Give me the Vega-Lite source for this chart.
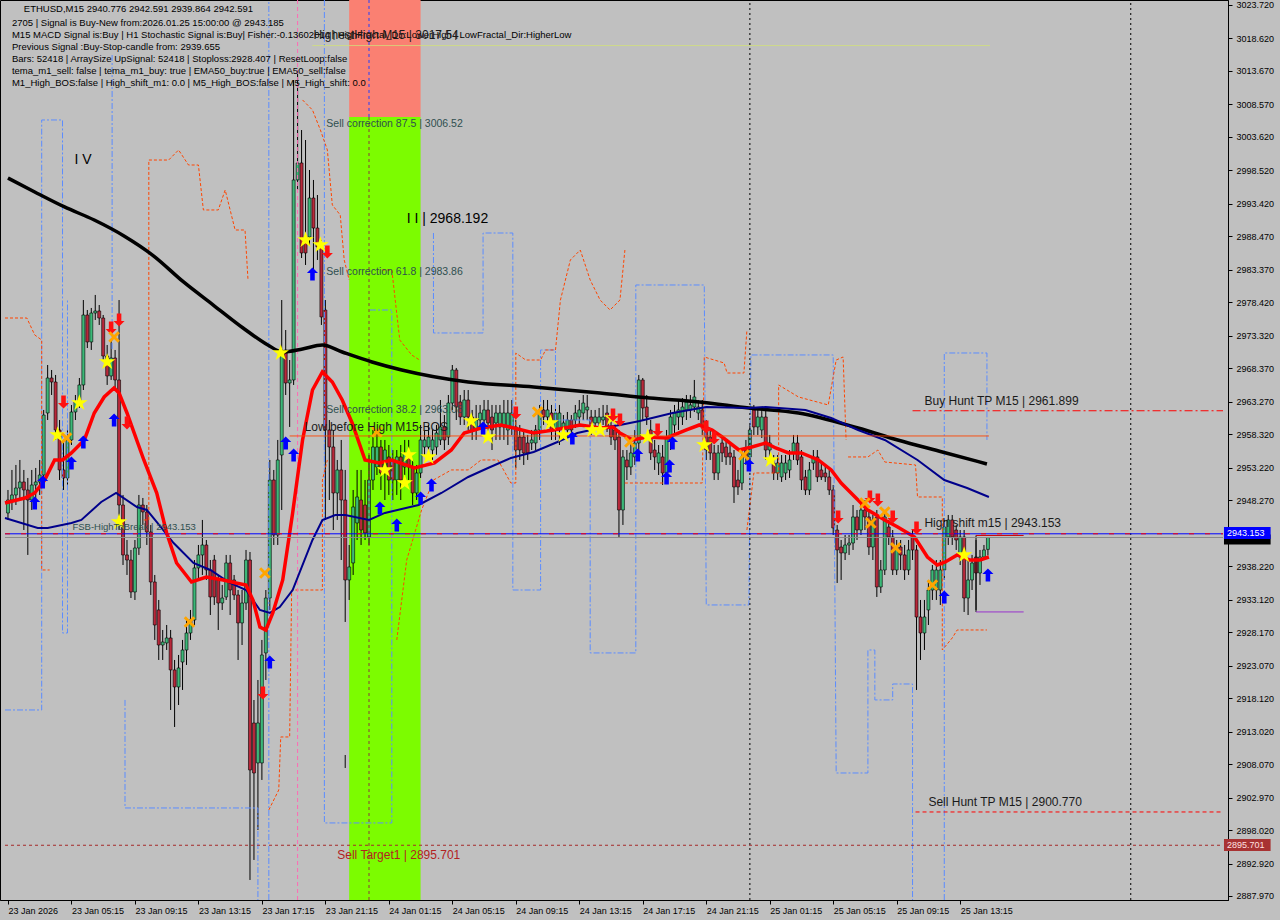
{
"$schema": "https://vega.github.io/schema/vega-lite/v6.json",
"width": 1228, "height": 900,
"autosize": {"type": "none"},
"padding": {"left": 0, "top": 0, "right": 52, "bottom": 20},
"background": "#c0c0c0",
"config": {"view": {"fill": "#c0c0c0", "stroke": "#000000", "strokeWidth": 1}, "axis": {"grid": false}},
"datasets": {
"bands": [
{"k":"r","i":86,"i2":104,"p":3006.66,"p2":3024.48},
{"k":"g","i":86,"i2":104,"p":2887.36,"p2":3006.66}
],
"candles": [
{"i":0,"o":2946.32,"h":2949.83,"l":2945.26,"c":2948.30},
{"i":1,"o":2948.30,"h":2952.88,"l":2946.78,"c":2949.07},
{"i":2,"o":2949.07,"h":2953.64,"l":2947.54,"c":2950.13},
{"i":3,"o":2950.13,"h":2954.40,"l":2948.30,"c":2951.05},
{"i":4,"o":2951.05,"h":2952.88,"l":2943.73,"c":2949.83},
{"i":5,"o":2949.83,"h":2951.66,"l":2939.93,"c":2948.30},
{"i":6,"o":2948.30,"h":2952.88,"l":2946.78,"c":2950.59},
{"i":7,"o":2950.59,"h":2953.18,"l":2948.30,"c":2951.05},
{"i":8,"o":2951.05,"h":2954.40,"l":2949.07,"c":2952.11},
{"i":9,"o":2952.11,"h":2962.02,"l":2951.35,"c":2961.25},
{"i":10,"o":2961.56,"h":2968.87,"l":2960.49,"c":2966.89},
{"i":11,"o":2966.89,"h":2968.11,"l":2964.30,"c":2966.28},
{"i":12,"o":2966.28,"h":2967.35,"l":2957.45,"c":2958.97},
{"i":13,"o":2958.97,"h":2960.49,"l":2951.35,"c":2952.88},
{"i":14,"o":2952.88,"h":2957.45,"l":2949.83,"c":2951.66},
{"i":15,"o":2951.66,"h":2958.97,"l":2950.59,"c":2957.45},
{"i":16,"o":2957.45,"h":2962.78,"l":2956.68,"c":2961.71},
{"i":17,"o":2961.71,"h":2964.30,"l":2960.49,"c":2963.24},
{"i":18,"o":2963.24,"h":2966.89,"l":2962.32,"c":2965.83},
{"i":19,"o":2965.83,"h":2978.77,"l":2965.06,"c":2976.49},
{"i":20,"o":2976.49,"h":2977.25,"l":2971.46,"c":2972.38},
{"i":21,"o":2972.38,"h":2977.56,"l":2971.16,"c":2976.79},
{"i":22,"o":2976.79,"h":2979.54,"l":2975.73,"c":2977.10},
{"i":23,"o":2977.10,"h":2978.01,"l":2974.97,"c":2976.03},
{"i":24,"o":2976.03,"h":2976.49,"l":2969.63,"c":2970.24},
{"i":25,"o":2970.24,"h":2971.92,"l":2965.83,"c":2967.20},
{"i":26,"o":2967.20,"h":2972.68,"l":2966.59,"c":2969.94},
{"i":27,"o":2969.94,"h":2971.16,"l":2965.06,"c":2966.59},
{"i":28,"o":2966.59,"h":2978.77,"l":2943.73,"c":2947.54},
{"i":29,"o":2947.54,"h":2949.07,"l":2938.40,"c":2939.93},
{"i":30,"o":2939.93,"h":2942.21,"l":2936.88,"c":2939.16},
{"i":31,"o":2939.16,"h":2940.69,"l":2933.37,"c":2934.29},
{"i":32,"o":2934.29,"h":2942.21,"l":2933.07,"c":2940.99},
{"i":33,"o":2940.99,"h":2949.07,"l":2939.93,"c":2947.54},
{"i":34,"o":2947.54,"h":2948.61,"l":2944.50,"c":2946.48},
{"i":35,"o":2946.48,"h":2947.54,"l":2941.45,"c":2943.43},
{"i":36,"o":2943.43,"h":2944.50,"l":2933.83,"c":2935.81},
{"i":37,"o":2935.81,"h":2936.88,"l":2926.98,"c":2929.26},
{"i":38,"o":2931.55,"h":2933.07,"l":2923.93,"c":2926.21},
{"i":39,"o":2926.21,"h":2928.50,"l":2923.93,"c":2926.67},
{"i":40,"o":2926.52,"h":2929.26,"l":2925.45,"c":2927.28},
{"i":41,"o":2927.28,"h":2928.50,"l":2916.31,"c":2922.41},
{"i":42,"o":2922.41,"h":2923.93,"l":2913.72,"c":2919.82},
{"i":43,"o":2919.82,"h":2924.69,"l":2917.07,"c":2922.71},
{"i":44,"o":2923.62,"h":2926.98,"l":2919.36,"c":2925.45},
{"i":45,"o":2925.45,"h":2930.02,"l":2923.17,"c":2928.04},
{"i":46,"o":2928.04,"h":2931.55,"l":2926.98,"c":2930.02},
{"i":47,"o":2930.02,"h":2939.16,"l":2929.26,"c":2937.95},
{"i":48,"o":2937.95,"h":2941.45,"l":2936.12,"c":2939.93},
{"i":49,"o":2939.93,"h":2945.26,"l":2936.88,"c":2941.45},
{"i":50,"o":2941.45,"h":2942.21,"l":2936.12,"c":2937.64},
{"i":51,"o":2937.64,"h":2939.16,"l":2930.78,"c":2933.53},
{"i":52,"o":2939.16,"h":2939.93,"l":2932.31,"c":2933.53},
{"i":53,"o":2936.12,"h":2936.88,"l":2928.50,"c":2932.61},
{"i":54,"o":2932.61,"h":2935.36,"l":2931.55,"c":2933.37},
{"i":55,"o":2933.53,"h":2939.93,"l":2933.07,"c":2938.71},
{"i":56,"o":2938.71,"h":2939.93,"l":2930.78,"c":2934.59},
{"i":57,"o":2936.12,"h":2936.88,"l":2933.07,"c":2933.83},
{"i":58,"o":2933.83,"h":2934.59,"l":2923.93,"c":2929.57},
{"i":59,"o":2929.57,"h":2934.59,"l":2926.21,"c":2932.61},
{"i":60,"o":2932.61,"h":2940.69,"l":2931.55,"c":2939.16},
{"i":61,"o":2939.16,"h":2940.38,"l":2890.41,"c":2907.17},
{"i":62,"o":2914.33,"h":2917.83,"l":2893.46,"c":2906.71},
{"i":63,"o":2908.24,"h":2920.88,"l":2898.03,"c":2914.33},
{"i":64,"o":2908.24,"h":2926.98,"l":2905.65,"c":2924.69},
{"i":65,"o":2925.00,"h":2934.59,"l":2920.88,"c":2933.37},
{"i":66,"o":2933.37,"h":2954.40,"l":2931.55,"c":2951.35},
{"i":67,"o":2951.35,"h":2952.88,"l":2941.45,"c":2942.97},
{"i":68,"o":2942.97,"h":2957.45,"l":2941.45,"c":2954.40},
{"i":69,"o":2955.16,"h":2978.77,"l":2946.78,"c":2971.16},
{"i":70,"o":2971.16,"h":2974.20,"l":2964.30,"c":2966.13},
{"i":71,"o":2966.13,"h":2969.63,"l":2959.43,"c":2966.59},
{"i":72,"o":2966.59,"h":3012.29,"l":2965.83,"c":2997.06},
{"i":73,"o":2997.06,"h":3013.82,"l":2995.53,"c":2999.65},
{"i":74,"o":2999.65,"h":3004.67,"l":2985.17,"c":2985.94},
{"i":75,"o":2988.37,"h":3003.15,"l":2984.11,"c":2985.94},
{"i":76,"o":2988.37,"h":2998.58,"l":2987.15,"c":2994.31},
{"i":77,"o":2994.31,"h":2997.06,"l":2983.35,"c":2989.74},
{"i":78,"o":2989.74,"h":2994.77,"l":2984.87,"c":2986.85},
{"i":79,"o":2986.85,"h":2987.92,"l":2974.97,"c":2976.19},
{"i":80,"o":2977.25,"h":2978.77,"l":2945.26,"c":2958.97},
{"i":81,"o":2958.97,"h":2960.49,"l":2948.30,"c":2956.38},
{"i":82,"o":2956.38,"h":2958.97,"l":2943.73,"c":2949.37},
{"i":83,"o":2949.37,"h":2954.40,"l":2945.26,"c":2952.88},
{"i":84,"o":2952.88,"h":2957.45,"l":2939.16,"c":2948.30},
{"i":85,"o":2948.30,"h":2952.88,"l":2929.72,"c":2936.12},
{"i":86,"o":2936.12,"h":2941.45,"l":2933.07,"c":2938.10},
{"i":87,"o":2938.71,"h":2949.83,"l":2936.88,"c":2947.24},
{"i":88,"o":2944.80,"h":2952.88,"l":2942.21,"c":2948.76},
{"i":89,"o":2948.30,"h":2952.88,"l":2941.45,"c":2943.73},
{"i":90,"o":2947.54,"h":2951.35,"l":2942.21,"c":2943.28},
{"i":91,"o":2942.67,"h":2955.16,"l":2941.45,"c":2951.35},
{"i":92,"o":2951.35,"h":2958.97,"l":2949.83,"c":2956.38},
{"i":93,"o":2953.33,"h":2958.97,"l":2952.11,"c":2956.38},
{"i":94,"o":2956.38,"h":2957.45,"l":2949.83,"c":2952.42},
{"i":95,"o":2952.42,"h":2957.45,"l":2948.30,"c":2955.92},
{"i":96,"o":2954.86,"h":2956.68,"l":2949.07,"c":2951.35},
{"i":97,"o":2954.40,"h":2955.92,"l":2948.30,"c":2951.35},
{"i":98,"o":2951.35,"h":2955.92,"l":2949.07,"c":2954.86},
{"i":99,"o":2954.86,"h":2956.68,"l":2948.30,"c":2951.35},
{"i":100,"o":2953.33,"h":2957.45,"l":2952.11,"c":2955.47},
{"i":101,"o":2955.47,"h":2957.45,"l":2951.35,"c":2953.33},
{"i":102,"o":2953.33,"h":2954.40,"l":2947.54,"c":2949.37},
{"i":103,"o":2949.37,"h":2953.64,"l":2948.30,"c":2952.42},
{"i":104,"o":2952.42,"h":2959.73,"l":2951.66,"c":2957.45},
{"i":105,"o":2956.38,"h":2958.97,"l":2955.16,"c":2957.45},
{"i":106,"o":2956.38,"h":2959.73,"l":2954.40,"c":2957.90},
{"i":107,"o":2955.92,"h":2958.97,"l":2954.40,"c":2957.45},
{"i":108,"o":2956.38,"h":2959.73,"l":2955.16,"c":2958.51},
{"i":109,"o":2957.45,"h":2963.54,"l":2956.68,"c":2959.43},
{"i":110,"o":2959.43,"h":2961.25,"l":2955.92,"c":2957.45},
{"i":111,"o":2957.90,"h":2964.30,"l":2956.68,"c":2963.08},
{"i":112,"o":2963.08,"h":2968.87,"l":2962.02,"c":2968.11},
{"i":113,"o":2968.11,"h":2968.42,"l":2960.49,"c":2962.47},
{"i":114,"o":2963.24,"h":2964.30,"l":2959.73,"c":2960.95},
{"i":115,"o":2960.95,"h":2965.06,"l":2959.73,"c":2963.54},
{"i":116,"o":2963.54,"h":2965.06,"l":2958.97,"c":2960.95},
{"i":117,"o":2960.95,"h":2962.02,"l":2957.45,"c":2958.97},
{"i":118,"o":2958.97,"h":2962.78,"l":2957.45,"c":2960.49},
{"i":119,"o":2960.49,"h":2962.78,"l":2958.97,"c":2961.56},
{"i":120,"o":2960.49,"h":2963.54,"l":2958.21,"c":2962.02},
{"i":121,"o":2962.02,"h":2963.54,"l":2957.45,"c":2960.04},
{"i":122,"o":2960.95,"h":2962.78,"l":2955.92,"c":2958.97},
{"i":123,"o":2960.04,"h":2962.78,"l":2957.45,"c":2961.56},
{"i":124,"o":2959.43,"h":2962.78,"l":2957.45,"c":2961.56},
{"i":125,"o":2959.43,"h":2963.54,"l":2957.45,"c":2961.56},
{"i":126,"o":2958.97,"h":2963.54,"l":2956.68,"c":2961.56},
{"i":127,"o":2959.43,"h":2963.54,"l":2958.21,"c":2961.56},
{"i":128,"o":2959.43,"h":2960.49,"l":2953.18,"c":2955.92},
{"i":129,"o":2957.90,"h":2959.73,"l":2954.40,"c":2955.92},
{"i":130,"o":2957.90,"h":2958.97,"l":2953.64,"c":2955.47},
{"i":131,"o":2956.99,"h":2958.21,"l":2954.40,"c":2955.47},
{"i":132,"o":2956.99,"h":2958.97,"l":2955.92,"c":2957.45},
{"i":133,"o":2956.99,"h":2959.73,"l":2955.92,"c":2958.97},
{"i":134,"o":2958.97,"h":2962.78,"l":2957.45,"c":2962.02},
{"i":135,"o":2962.02,"h":2963.54,"l":2959.73,"c":2960.95},
{"i":136,"o":2960.95,"h":2963.54,"l":2959.73,"c":2962.02},
{"i":137,"o":2961.56,"h":2962.78,"l":2957.45,"c":2958.97},
{"i":138,"o":2958.97,"h":2962.78,"l":2957.45,"c":2961.56},
{"i":139,"o":2958.97,"h":2962.78,"l":2956.68,"c":2961.56},
{"i":140,"o":2958.97,"h":2961.25,"l":2957.75,"c":2960.04},
{"i":141,"o":2958.97,"h":2961.71,"l":2957.75,"c":2960.49},
{"i":142,"o":2960.49,"h":2961.25,"l":2957.45,"c":2958.97},
{"i":143,"o":2960.49,"h":2962.78,"l":2959.27,"c":2961.56},
{"i":144,"o":2960.95,"h":2963.54,"l":2959.73,"c":2962.02},
{"i":145,"o":2961.56,"h":2964.30,"l":2960.49,"c":2963.08},
{"i":146,"o":2962.02,"h":2964.30,"l":2960.49,"c":2962.47},
{"i":147,"o":2960.95,"h":2962.02,"l":2958.21,"c":2959.43},
{"i":148,"o":2960.04,"h":2962.02,"l":2958.97,"c":2960.95},
{"i":149,"o":2960.04,"h":2962.32,"l":2958.97,"c":2960.95},
{"i":150,"o":2960.49,"h":2962.78,"l":2959.73,"c":2960.95},
{"i":151,"o":2961.56,"h":2962.78,"l":2958.66,"c":2959.43},
{"i":152,"o":2959.43,"h":2960.49,"l":2956.68,"c":2957.90},
{"i":153,"o":2958.97,"h":2959.73,"l":2955.92,"c":2957.45},
{"i":154,"o":2957.90,"h":2958.97,"l":2942.67,"c":2946.78},
{"i":155,"o":2946.78,"h":2955.92,"l":2944.50,"c":2954.86},
{"i":156,"o":2954.40,"h":2955.92,"l":2951.35,"c":2953.33},
{"i":157,"o":2953.33,"h":2957.45,"l":2952.11,"c":2955.47},
{"i":158,"o":2954.86,"h":2958.97,"l":2953.64,"c":2956.99},
{"i":159,"o":2956.99,"h":2967.35,"l":2955.92,"c":2966.59},
{"i":160,"o":2966.59,"h":2966.89,"l":2960.49,"c":2962.32},
{"i":161,"o":2962.47,"h":2964.30,"l":2959.73,"c":2960.95},
{"i":162,"o":2958.97,"h":2960.49,"l":2954.40,"c":2955.47},
{"i":163,"o":2955.92,"h":2957.45,"l":2952.88,"c":2954.86},
{"i":164,"o":2953.94,"h":2956.68,"l":2952.11,"c":2955.47},
{"i":165,"o":2954.86,"h":2956.68,"l":2950.59,"c":2952.42},
{"i":166,"o":2952.42,"h":2958.97,"l":2952.12,"c":2957.90},
{"i":167,"o":2957.45,"h":2962.02,"l":2955.92,"c":2960.95},
{"i":168,"o":2959.73,"h":2962.78,"l":2958.21,"c":2961.56},
{"i":169,"o":2960.95,"h":2963.54,"l":2958.97,"c":2962.02},
{"i":170,"o":2960.95,"h":2963.84,"l":2959.73,"c":2962.47},
{"i":171,"o":2962.02,"h":2964.30,"l":2960.49,"c":2963.24},
{"i":172,"o":2962.02,"h":2964.30,"l":2960.80,"c":2962.78},
{"i":173,"o":2962.47,"h":2966.59,"l":2961.71,"c":2964.00},
{"i":174,"o":2961.56,"h":2963.54,"l":2960.49,"c":2962.47},
{"i":175,"o":2962.02,"h":2963.54,"l":2958.21,"c":2959.43},
{"i":176,"o":2959.43,"h":2960.49,"l":2954.40,"c":2955.92},
{"i":177,"o":2957.90,"h":2958.97,"l":2954.40,"c":2955.47},
{"i":178,"o":2955.47,"h":2956.68,"l":2951.35,"c":2952.42},
{"i":179,"o":2952.42,"h":2956.68,"l":2951.35,"c":2955.47},
{"i":180,"o":2956.99,"h":2958.21,"l":2954.09,"c":2955.47},
{"i":181,"o":2956.38,"h":2957.45,"l":2953.64,"c":2954.86},
{"i":182,"o":2955.47,"h":2956.68,"l":2953.64,"c":2954.86},
{"i":183,"o":2954.86,"h":2955.92,"l":2947.85,"c":2950.29},
{"i":184,"o":2951.35,"h":2952.88,"l":2949.07,"c":2950.29},
{"i":185,"o":2950.89,"h":2955.92,"l":2949.83,"c":2954.86},
{"i":186,"o":2955.92,"h":2957.45,"l":2953.64,"c":2954.86},
{"i":187,"o":2954.86,"h":2959.73,"l":2953.64,"c":2958.97},
{"i":188,"o":2962.02,"h":2962.78,"l":2958.21,"c":2959.43},
{"i":189,"o":2959.43,"h":2962.02,"l":2958.21,"c":2960.95},
{"i":190,"o":2958.97,"h":2962.02,"l":2957.75,"c":2960.95},
{"i":191,"o":2960.95,"h":2962.02,"l":2954.40,"c":2955.92},
{"i":192,"o":2955.92,"h":2958.21,"l":2954.70,"c":2956.99},
{"i":193,"o":2953.94,"h":2955.16,"l":2951.35,"c":2952.42},
{"i":194,"o":2952.42,"h":2955.16,"l":2951.35,"c":2953.94},
{"i":195,"o":2951.81,"h":2955.16,"l":2951.05,"c":2953.94},
{"i":196,"o":2952.42,"h":2955.16,"l":2951.35,"c":2953.94},
{"i":197,"o":2952.88,"h":2955.92,"l":2951.66,"c":2954.40},
{"i":198,"o":2955.47,"h":2958.21,"l":2954.40,"c":2956.99},
{"i":199,"o":2956.99,"h":2958.21,"l":2953.64,"c":2954.40},
{"i":200,"o":2954.86,"h":2955.92,"l":2949.83,"c":2951.35},
{"i":201,"o":2951.81,"h":2952.88,"l":2949.07,"c":2949.83},
{"i":202,"o":2949.83,"h":2954.09,"l":2949.07,"c":2952.88},
{"i":203,"o":2953.94,"h":2955.92,"l":2952.88,"c":2954.86},
{"i":204,"o":2954.86,"h":2955.92,"l":2951.05,"c":2951.81},
{"i":205,"o":2952.88,"h":2954.09,"l":2951.35,"c":2951.81},
{"i":206,"o":2952.42,"h":2953.64,"l":2951.05,"c":2951.81},
{"i":207,"o":2951.81,"h":2952.88,"l":2949.07,"c":2949.83},
{"i":208,"o":2949.83,"h":2950.59,"l":2942.97,"c":2944.04},
{"i":209,"o":2943.73,"h":2944.50,"l":2935.66,"c":2940.69},
{"i":210,"o":2941.14,"h":2942.21,"l":2936.12,"c":2940.23},
{"i":211,"o":2940.23,"h":2942.97,"l":2939.16,"c":2941.45},
{"i":212,"o":2941.45,"h":2942.97,"l":2939.93,"c":2941.75},
{"i":213,"o":2941.75,"h":2947.54,"l":2940.69,"c":2945.72},
{"i":214,"o":2945.72,"h":2946.78,"l":2942.21,"c":2943.73},
{"i":215,"o":2943.73,"h":2948.30,"l":2942.97,"c":2946.78},
{"i":216,"o":2946.78,"h":2948.30,"l":2943.73,"c":2945.72},
{"i":217,"o":2945.72,"h":2946.78,"l":2939.93,"c":2941.14},
{"i":218,"o":2941.14,"h":2946.02,"l":2939.16,"c":2945.26},
{"i":219,"o":2945.72,"h":2946.78,"l":2933.53,"c":2935.05},
{"i":220,"o":2935.05,"h":2939.16,"l":2934.14,"c":2937.64},
{"i":221,"o":2937.64,"h":2946.78,"l":2936.88,"c":2945.72},
{"i":222,"o":2944.19,"h":2945.26,"l":2941.45,"c":2942.67},
{"i":223,"o":2942.67,"h":2943.73,"l":2936.88,"c":2937.64},
{"i":224,"o":2937.64,"h":2942.21,"l":2936.88,"c":2941.14},
{"i":225,"o":2941.14,"h":2942.21,"l":2937.64,"c":2939.93},
{"i":226,"o":2939.93,"h":2941.45,"l":2936.12,"c":2937.64},
{"i":227,"o":2937.64,"h":2942.21,"l":2936.88,"c":2940.69},
{"i":228,"o":2942.67,"h":2943.73,"l":2939.16,"c":2940.69},
{"i":229,"o":2940.69,"h":2941.45,"l":2919.36,"c":2930.48},
{"i":230,"o":2930.48,"h":2933.07,"l":2923.93,"c":2928.04},
{"i":231,"o":2928.04,"h":2933.07,"l":2925.45,"c":2930.48},
{"i":232,"o":2931.55,"h":2936.12,"l":2929.26,"c":2934.59},
{"i":233,"o":2934.59,"h":2938.40,"l":2933.07,"c":2937.64},
{"i":234,"o":2934.59,"h":2939.16,"l":2933.07,"c":2937.64},
{"i":235,"o":2934.59,"h":2939.16,"l":2932.31,"c":2937.64},
{"i":236,"o":2937.64,"h":2945.26,"l":2936.12,"c":2944.19},
{"i":237,"o":2942.67,"h":2946.02,"l":2941.45,"c":2945.26},
{"i":238,"o":2945.26,"h":2946.02,"l":2941.45,"c":2942.67},
{"i":239,"o":2943.73,"h":2944.50,"l":2940.69,"c":2942.21},
{"i":240,"o":2939.62,"h":2943.73,"l":2938.40,"c":2942.67},
{"i":241,"o":2942.67,"h":2943.73,"l":2931.24,"c":2933.37},
{"i":242,"o":2933.37,"h":2939.16,"l":2930.78,"c":2936.12},
{"i":243,"o":2936.12,"h":2939.93,"l":2934.59,"c":2938.71},
{"i":244,"o":2939.62,"h":2942.21,"l":2931.55,"c":2937.18},
{"i":245,"o":2937.18,"h":2940.69,"l":2935.36,"c":2939.62},
{"i":246,"o":2939.62,"h":2941.45,"l":2939.16,"c":2940.69},
{"i":247,"o":2940.776,"h":2942.591,"l":2939.864,"c":2942.591}
],
"ma": [
{"s":"k","i":0,"p":2997.36},{"s":"k","i":6.75,"p":2995.23},{"s":"k","i":14.25,"p":2992.95},{"s":"k","i":21.75,"p":2990.96},{"s":"k","i":29.25,"p":2988.53},{"s":"k","i":36.75,"p":2985.47},{"s":"k","i":44.25,"p":2981.52},{"s":"k","i":51.75,"p":2978.01},{"s":"k","i":59.25,"p":2974.51},{"s":"k","i":65.5,"p":2971.92},{"s":"k","i":69.25,"p":2970.85},{"s":"k","i":74.25,"p":2971.31},{"s":"k","i":79.25,"p":2971.92},{"s":"k","i":84.25,"p":2970.85},{"s":"k","i":91.75,"p":2969.33},{"s":"k","i":99.25,"p":2968.11},{"s":"k","i":116,"p":2966.28},{"s":"k","i":132.5,"p":2965.52},{"s":"k","i":149.25,"p":2964.61},{"s":"k","i":161.75,"p":2963.84},{"s":"k","i":174.25,"p":2963.24},{"s":"k","i":186.75,"p":2962.32},{"s":"k","i":199.25,"p":2961.56},{"s":"k","i":214.25,"p":2959.27},{"s":"k","i":224.25,"p":2957.45},{"s":"k","i":235.5,"p":2955.62},{"s":"k","i":246.75,"p":2953.79},
{"s":"n","i":-0.75,"p":2945.56},{"s":"n","i":7.5,"p":2944.04},{"s":"n","i":10,"p":2944.04},{"s":"n","i":16,"p":2944.80},{"s":"n","i":18.5,"p":2945.26},{"s":"n","i":23.5,"p":2948.00},{"s":"n","i":27.25,"p":2949.37},{"s":"n","i":32.5,"p":2947.24},{"s":"n","i":35,"p":2946.78},{"s":"n","i":38.5,"p":2944.19},{"s":"n","i":41.75,"p":2941.75},{"s":"n","i":46.75,"p":2938.71},{"s":"n","i":51,"p":2937.64},{"s":"n","i":56,"p":2935.66},{"s":"n","i":60,"p":2934.59},{"s":"n","i":63.5,"p":2931.55},{"s":"n","i":66,"p":2931.09},{"s":"n","i":68.5,"p":2932.00},{"s":"n","i":71.75,"p":2934.59},{"s":"n","i":76.75,"p":2942.21},{"s":"n","i":79.25,"p":2945.26},{"s":"n","i":82.5,"p":2946.02},{"s":"n","i":85,"p":2946.02},{"s":"n","i":91,"p":2945.26},{"s":"n","i":95,"p":2946.33},{"s":"n","i":103.5,"p":2947.54},{"s":"n","i":109.25,"p":2949.37},{"s":"n","i":116,"p":2951.81},{"s":"n","i":121,"p":2953.18},{"s":"n","i":126.75,"p":2954.70},{"s":"n","i":132.5,"p":2955.62},{"s":"n","i":138.5,"p":2957.14},{"s":"n","i":143.5,"p":2958.51},{"s":"n","i":149.25,"p":2959.27},{"s":"n","i":154.25,"p":2959.73},{"s":"n","i":159.25,"p":2960.34},{"s":"n","i":167.5,"p":2961.56},{"s":"n","i":176,"p":2962.47},{"s":"n","i":186.75,"p":2962.32},{"s":"n","i":191,"p":2962.47},{"s":"n","i":201,"p":2962.02},{"s":"n","i":207.5,"p":2960.80},{"s":"n","i":214.25,"p":2958.97},{"s":"n","i":221,"p":2957.45},{"s":"n","i":229.25,"p":2954.40},{"s":"n","i":236,"p":2951.35},{"s":"n","i":241.75,"p":2950.13},{"s":"n","i":247.25,"p":2948.76},
{"s":"r","i":-0.75,"p":2947.85},{"s":"r","i":4.25,"p":2948.61},{"s":"r","i":6.75,"p":2949.37},{"s":"r","i":9.25,"p":2951.35},{"s":"r","i":11.75,"p":2954.40},{"s":"r","i":13.75,"p":2954.40},{"s":"r","i":16,"p":2955.47},{"s":"r","i":19.25,"p":2957.45},{"s":"r","i":21.75,"p":2961.56},{"s":"r","i":24.25,"p":2964.00},{"s":"r","i":26.75,"p":2965.37},{"s":"r","i":28,"p":2964.61},{"s":"r","i":30,"p":2961.56},{"s":"r","i":34.25,"p":2954.40},{"s":"r","i":37.5,"p":2949.37},{"s":"r","i":40,"p":2943.28},{"s":"r","i":42.5,"p":2938.71},{"s":"r","i":46.25,"p":2935.81},{"s":"r","i":50,"p":2936.57},{"s":"r","i":54.25,"p":2936.12},{"s":"r","i":57.5,"p":2935.66},{"s":"r","i":60,"p":2935.36},{"s":"r","i":61.75,"p":2933.07},{"s":"r","i":63.5,"p":2928.96},{"s":"r","i":65,"p":2928.50},{"s":"r","i":66.75,"p":2931.09},{"s":"r","i":69.25,"p":2936.12},{"s":"r","i":71.75,"p":2946.33},{"s":"r","i":74.25,"p":2957.45},{"s":"r","i":76.75,"p":2965.06},{"s":"r","i":79.25,"p":2967.81},{"s":"r","i":81.75,"p":2966.28},{"s":"r","i":84.25,"p":2963.54},{"s":"r","i":86.75,"p":2960.04},{"s":"r","i":90,"p":2954.40},{"s":"r","i":93.5,"p":2953.94},{"s":"r","i":96.75,"p":2954.40},{"s":"r","i":102.5,"p":2953.18},{"s":"r","i":107.5,"p":2953.94},{"s":"r","i":111.75,"p":2955.92},{"s":"r","i":115,"p":2958.51},{"s":"r","i":119.25,"p":2959.27},{"s":"r","i":124.25,"p":2959.73},{"s":"r","i":127.5,"p":2959.27},{"s":"r","i":132.5,"p":2958.51},{"s":"r","i":137.5,"p":2958.97},{"s":"r","i":144.25,"p":2959.73},{"s":"r","i":149.25,"p":2959.27},{"s":"r","i":152.5,"p":2959.43},{"s":"r","i":154.25,"p":2958.51},{"s":"r","i":157.5,"p":2957.45},{"s":"r","i":161,"p":2957.90},{"s":"r","i":166,"p":2957.75},{"s":"r","i":171,"p":2958.97},{"s":"r","i":174.25,"p":2959.73},{"s":"r","i":177.5,"p":2958.97},{"s":"r","i":180,"p":2957.90},{"s":"r","i":184.25,"p":2955.92},{"s":"r","i":187.5,"p":2956.38},{"s":"r","i":191,"p":2956.99},{"s":"r","i":193.5,"p":2956.23},{"s":"r","i":196.75,"p":2955.47},{"s":"r","i":200,"p":2955.47},{"s":"r","i":204.25,"p":2954.40},{"s":"r","i":207.5,"p":2952.88},{"s":"r","i":210,"p":2950.89},{"s":"r","i":213.5,"p":2948.76},{"s":"r","i":216.75,"p":2946.78},{"s":"r","i":221,"p":2945.26},{"s":"r","i":224.25,"p":2944.19},{"s":"r","i":228.5,"p":2942.67},{"s":"r","i":231.75,"p":2939.62},{"s":"r","i":234.25,"p":2938.40},{"s":"r","i":236.25,"p":2938.86},{"s":"r","i":239.25,"p":2939.93},{"s":"r","i":242.5,"p":2939.16},{"s":"r","i":245,"p":2939.16},{"s":"r","i":247.25,"p":2939.62}
],
"env": [
{"s":"B1","k":"b","i":-0.75,"p":2916.31},{"s":"B1","k":"b","i":8.5,"p":2916.31},{"s":"B1","k":"b","i":8.5,"p":3006.20},{"s":"B1","k":"b","i":13.75,"p":3006.20},{"s":"B1","k":"b","i":13.75,"p":2928.04},{"s":"B1","k":"b","i":15,"p":2928.04},{"s":"B1","k":"b","i":15,"p":2978.77},
{"s":"B2","k":"b","i":26.25,"p":3016.10},{"s":"B2","k":"b","i":26.25,"p":2971.16},
{"s":"B3","k":"b","i":29.5,"p":2917.84},{"s":"B3","k":"b","i":29.5,"p":2901.38},{"s":"B3","k":"b","i":63,"p":2901.38},{"s":"B3","k":"b","i":63,"p":2887.36},
{"s":"B4","k":"b","i":65.75,"p":2887.36},{"s":"B4","k":"b","i":65.75,"p":3024.48},
{"s":"B5","k":"b","i":79.75,"p":3024.48},{"s":"B5","k":"b","i":79.75,"p":2899.10},{"s":"B5","k":"b","i":96.75,"p":2899.10},{"s":"B5","k":"b","i":96.75,"p":2977.25},
{"s":"B5b","k":"b","i":91.25,"p":2977.25},{"s":"B5b","k":"b","i":96.75,"p":2977.25},
{"s":"B6","k":"b","i":107.25,"p":2988.98},{"s":"B6","k":"b","i":107.25,"p":2973.75},{"s":"B6","k":"b","i":119.75,"p":2973.75},{"s":"B6","k":"b","i":119.75,"p":2988.98},{"s":"B6","k":"b","i":127.25,"p":2988.98},{"s":"B6","k":"b","i":127.25,"p":2934.59},{"s":"B6","k":"b","i":134.25,"p":2934.59},{"s":"B6","k":"b","i":134.25,"p":2971.16},{"s":"B6","k":"b","i":138,"p":2971.16},{"s":"B6","k":"b","i":138,"p":2960.49},{"s":"B6","k":"b","i":146.75,"p":2960.49},{"s":"B6","k":"b","i":146.75,"p":2925.00},{"s":"B6","k":"b","i":158.25,"p":2925.00},{"s":"B6","k":"b","i":158.25,"p":2981.06},{"s":"B6","k":"b","i":175.5,"p":2981.06},{"s":"B6","k":"b","i":176,"p":2932.31},{"s":"B6","k":"b","i":186.75,"p":2932.31},{"s":"B6","k":"b","i":187.25,"p":2970.40},{"s":"B6","k":"b","i":208,"p":2970.40},{"s":"B6","k":"b","i":208.75,"p":2906.71},{"s":"B6","k":"b","i":216.75,"p":2906.71},{"s":"B6","k":"b","i":216.75,"p":2925.45},{"s":"B6","k":"b","i":218.5,"p":2925.45},{"s":"B6","k":"b","i":218.5,"p":2917.84},{"s":"B6","k":"b","i":223,"p":2917.84},{"s":"B6","k":"b","i":223,"p":2920.27},{"s":"B6","k":"b","i":228,"p":2920.27},{"s":"B6","k":"b","i":228,"p":2887.36},
{"s":"B7","k":"b","i":236,"p":2887.36},{"s":"B7","k":"b","i":236,"p":2970.70},{"s":"B7","k":"b","i":246.75,"p":2970.70},{"s":"B7","k":"b","i":246.75,"p":2957.45},
{"s":"O1","k":"o","i":-0.75,"p":2976.03},{"s":"O1","k":"o","i":4.75,"p":2976.03},{"s":"O1","k":"o","i":6.75,"p":2973.44},{"s":"O1","k":"o","i":8.5,"p":2972.68},{"s":"O1","k":"o","i":8.5,"p":2937.64},{"s":"O1","k":"o","i":10.5,"p":2937.64},
{"s":"O2","k":"o","i":34.25,"p":2945.26},{"s":"O2","k":"o","i":35.5,"p":2945.26},{"s":"O2","k":"o","i":35.5,"p":3000.10},{"s":"O2","k":"o","i":40.5,"p":3000.10},{"s":"O2","k":"o","i":43,"p":3001.63},{"s":"O2","k":"o","i":45.5,"p":2999.34},{"s":"O2","k":"o","i":48,"p":2999.34},{"s":"O2","k":"o","i":49.25,"p":2992.49},{"s":"O2","k":"o","i":53,"p":2992.49},{"s":"O2","k":"o","i":54.75,"p":2995.53},{"s":"O2","k":"o","i":57.25,"p":2989.44},{"s":"O2","k":"o","i":59.75,"p":2989.44},{"s":"O2","k":"o","i":60.5,"p":2981.82},
{"s":"O3","k":"o","i":74.25,"p":3009.25},{"s":"O3","k":"o","i":76.75,"p":3007.72},{"s":"O3","k":"o","i":78.75,"p":3004.67},{"s":"O3","k":"o","i":80.5,"p":3001.63},{"s":"O3","k":"o","i":81.75,"p":2993.25},{"s":"O3","k":"o","i":83.75,"p":2991.72},{"s":"O3","k":"o","i":84.75,"p":2984.87},{"s":"O3","k":"o","i":86,"p":2981.82},
{"s":"O4","k":"o","i":94.25,"p":2983.35},{"s":"O4","k":"o","i":96.75,"p":2983.35},{"s":"O4","k":"o","i":98.75,"p":2972.68},{"s":"O4","k":"o","i":101.75,"p":2970.40},{"s":"O4","k":"o","i":103.75,"p":2969.63},
{"s":"O5","k":"o","i":98,"p":2926.98},{"s":"O5","k":"o","i":100.5,"p":2939.16},{"s":"O5","k":"o","i":104.25,"p":2946.78},{"s":"O5","k":"o","i":107.25,"p":2951.35},{"s":"O5","k":"o","i":111.75,"p":2952.88},{"s":"O5","k":"o","i":116,"p":2952.88},{"s":"O5","k":"o","i":119.25,"p":2954.40},{"s":"O5","k":"o","i":123.5,"p":2954.40},{"s":"O5","k":"o","i":126.75,"p":2950.89},{"s":"O5","k":"o","i":128,"p":2950.89},{"s":"O5","k":"o","i":128,"p":2970.70},{"s":"O5","k":"o","i":130.5,"p":2969.63},{"s":"O5","k":"o","i":134.25,"p":2969.63},{"s":"O5","k":"o","i":135.5,"p":2971.16},{"s":"O5","k":"o","i":138,"p":2971.16},{"s":"O5","k":"o","i":139.25,"p":2978.77},{"s":"O5","k":"o","i":141.75,"p":2984.87},{"s":"O5","k":"o","i":144.25,"p":2986.39},{"s":"O5","k":"o","i":146.75,"p":2981.82},{"s":"O5","k":"o","i":149.25,"p":2978.77},{"s":"O5","k":"o","i":151.75,"p":2977.25},{"s":"O5","k":"o","i":154.25,"p":2978.77},{"s":"O5","k":"o","i":155.5,"p":2986.39},
{"s":"O6","k":"o","i":155.5,"p":2950.89},{"s":"O6","k":"o","i":175,"p":2950.89},{"s":"O6","k":"o","i":175.5,"p":2970.09},{"s":"O6","k":"o","i":180.5,"p":2969.18},{"s":"O6","k":"o","i":181.25,"p":2967.65},{"s":"O6","k":"o","i":185.5,"p":2967.65},{"s":"O6","k":"o","i":186.25,"p":2974.20},
{"s":"O7","k":"o","i":186.25,"p":2943.73},{"s":"O7","k":"o","i":188,"p":2952.42},{"s":"O7","k":"o","i":194.25,"p":2952.42},{"s":"O7","k":"o","i":194.25,"p":2965.83},{"s":"O7","k":"o","i":199.25,"p":2964.00},{"s":"O7","k":"o","i":206.75,"p":2962.78},{"s":"O7","k":"o","i":208.75,"p":2969.63},{"s":"O7","k":"o","i":210.5,"p":2970.09},{"s":"O7","k":"o","i":211.25,"p":2957.45},
{"s":"O8","k":"o","i":211.75,"p":2954.86},{"s":"O8","k":"o","i":216.75,"p":2954.86},{"s":"O8","k":"o","i":219.25,"p":2955.92},{"s":"O8","k":"o","i":221,"p":2954.09},{"s":"O8","k":"o","i":228.75,"p":2953.64},{"s":"O8","k":"o","i":229.25,"p":2948.76},{"s":"O8","k":"o","i":235.5,"p":2948.76},{"s":"O8","k":"o","i":235.5,"p":2925.45},{"s":"O8","k":"o","i":238,"p":2927.28},{"s":"O8","k":"o","i":239.25,"p":2928.50},{"s":"O8","k":"o","i":246.75,"p":2928.50},
{"s":"O9","k":"o","i":65.75,"p":2901.08},{"s":"O9","k":"o","i":68.25,"p":2904.13},{"s":"O9","k":"o","i":68.75,"p":2912.20},{"s":"O9","k":"o","i":71,"p":2912.20},{"s":"O9","k":"o","i":71.5,"p":2934.59},{"s":"O9","k":"o","i":79.25,"p":2934.59},{"s":"O9","k":"o","i":79.25,"p":2951.35},{"s":"O9","k":"o","i":80.5,"p":2954.40}
],
"hl": [
{"k":"blue","i":-0.75,"i2":306.25,"p":2943.153},
{"k":"redd","i":-0.75,"i2":306.25,"p":2943.153},
{"k":"gray","i":-0.75,"i2":306.25,"p":2942.591},
{"k":"tgt","i":-0.75,"i2":306.25,"p":2895.701},
{"k":"buyhunt","i":228,"i2":306.25,"p":2961.899},
{"k":"sellhunt","i":228.75,"i2":306.25,"p":2900.770},
{"k":"orange","i":71,"i2":247.25,"p":2958.06},
{"k":"hh","i":76.75,"i2":247.5,"p":3017.54},
{"k":"darkred","i":244,"i2":256,"p":2942.9},
{"k":"purple","i":244,"i2":256,"p":2931.25}
],
"vl": [
{"k":"dot","i":187,"p":2887.36,"p2":3024.48},
{"k":"dot","i":283,"p":2887.36,"p2":3024.48},
{"k":"pink","i":73,"p":2887.36,"p2":3024.48},
{"k":"brown","i":91,"p":2887.36,"p2":3006.66},
{"k":"bluev","i":91,"p":3006.66,"p2":3024.48},
{"k":"solid","i":244,"p":2931.25,"p2":2942.9},
{"k":"solid","i":85,"p":2907.48,"p2":2909.45}
],
"mk": [
{"k":"s","i":12.5,"p":2958.21},{"k":"s","i":18,"p":2963.08},{"k":"s","i":25,"p":2969.33},{"k":"s","i":28,"p":2944.95},{"k":"s","i":68.75,"p":2970.70},{"k":"s","i":75,"p":2987.92},{"k":"s","i":78.75,"p":2987.15},{"k":"s","i":95,"p":2952.88},{"k":"s","i":101,"p":2955.16},{"k":"s","i":106,"p":2954.86},{"k":"s","i":100,"p":2950.89},{"k":"s","i":116.75,"p":2960.34},{"k":"s","i":121,"p":2957.90},{"k":"s","i":136.75,"p":2960.04},{"k":"s","i":140,"p":2958.21},{"k":"s","i":147.25,"p":2958.97},{"k":"s","i":149.25,"p":2958.97},{"k":"s","i":152.25,"p":2960.80},{"k":"s","i":161.25,"p":2957.90},{"k":"s","i":175.5,"p":2956.68},{"k":"s","i":192.25,"p":2954.40},{"k":"s","i":241,"p":2939.93},
{"k":"u","i":6.75,"p":2947.85},{"k":"u","i":8.75,"p":2951.05},{"k":"u","i":16,"p":2953.94},{"k":"u","i":19,"p":2957.14},{"k":"u","i":26.75,"p":2960.49},{"k":"u","i":66,"p":2923.62},{"k":"u","i":70,"p":2956.99},{"k":"u","i":72,"p":2955.16},{"k":"u","i":76.75,"p":2982.74},{"k":"u","i":93.75,"p":2947.09},{"k":"u","i":98,"p":2944.50},{"k":"u","i":104,"p":2948.61},{"k":"u","i":106.75,"p":2950.59},{"k":"u","i":119.75,"p":2959.27},{"k":"u","i":142.25,"p":2957.75},{"k":"u","i":158.75,"p":2955.16},{"k":"u","i":166,"p":2951.66},{"k":"u","i":166.75,"p":2953.49},{"k":"u","i":167.5,"p":2956.99},{"k":"u","i":186.75,"p":2953.64},{"k":"u","i":236,"p":2933.53},{"k":"u","i":247,"p":2936.88},
{"k":"d","i":14,"p":2963.24},{"k":"d","i":26,"p":2974.51},{"k":"d","i":28,"p":2975.73},{"k":"d","i":30,"p":2960.04},{"k":"d","i":64.25,"p":2918.91},{"k":"d","i":80.5,"p":2986.09},{"k":"d","i":128,"p":2961.56},{"k":"d","i":152.5,"p":2961.25},{"k":"d","i":154.25,"p":2960.49},{"k":"d","i":163.75,"p":2958.97},{"k":"d","i":176,"p":2959.43},{"k":"d","i":178,"p":2957.75},{"k":"d","i":209.25,"p":2945.72},{"k":"d","i":217.25,"p":2948.76},{"k":"d","i":219.25,"p":2948.30},{"k":"d","i":223,"p":2945.72},{"k":"d","i":229,"p":2944.04},
{"k":"x","i":26.75,"p":2973.14},{"k":"x","i":14.75,"p":2957.75},{"k":"x","i":45.75,"p":2929.72},{"k":"x","i":64.75,"p":2937.18},{"k":"x","i":93,"p":2958.67},{"k":"x","i":133.5,"p":2961.71},{"k":"x","i":156.75,"p":2957.14},{"k":"x","i":185.5,"p":2955.16},{"k":"x","i":216,"p":2947.85},{"k":"x","i":221,"p":2946.48},{"k":"x","i":217.5,"p":2944.80},{"k":"x","i":223.75,"p":2941.01},{"k":"x","i":233,"p":2935.36}
],
"txt": [
{"k":"info","i":4,"p":3023.11,"t":"ETHUSD,M15  2940.776 2942.591 2939.864 2942.591"},
{"k":"info","i":1,"p":3020.98,"t":"2705 | Signal is Buy-New from:2026.01.25 15:00:00 @ 2943.185"},
{"k":"info","i":1,"p":3019.15,"t":"M15 MACD Signal is:Buy | H1 Stochastic Signal is:Buy| Fisher:-0.13602014 | HighFractal_Dir:LowerHigh | LowFractal_Dir:HigherLow"},
{"k":"info","i":1,"p":3017.32,"t":"Previous Signal :Buy-Stop-candle from: 2939.655"},
{"k":"info","i":1,"p":3015.49,"t":"Bars: 52418 | ArraySize UpSignal: 52418 | Stoploss:2928.407 | ResetLoop:false"},
{"k":"info","i":1,"p":3013.66,"t":"tema_m1_sell: false | tema_m1_buy: true | EMA50_buy:true | EMA50_sell:false"},
{"k":"info","i":1,"p":3011.83,"t":"M1_High_BOS:false | High_shift_m1: 0.0 | M5_High_BOS:false | M5_High_shift: 0.0"},
{"k":"lab","i":77,"p":3019.15,"t":"HighestHigh M15 | 3017.54"},
{"k":"sc","i":80.25,"p":3005.59,"t":"Sell correction 87.5 | 3006.52"},
{"k":"sc","i":80.25,"p":2983.04,"t":"Sell correction 61.8 | 2983.86"},
{"k":"sc","i":80.25,"p":2962.02,"t":"Sell correction 38.2 | 2963.08"},
{"k":"big","i":100.5,"p":2991.12,"t":"I I | 2968.192"},
{"k":"big","i":16.75,"p":3000.10,"t":"I V"},
{"k":"lab","i":74.75,"p":2959.43,"t":"Low before High   M15-BOS"},
{"k":"fsb","i":16.25,"p":2944.19,"t":"FSB-HighToBreak | 2943.153"},
{"k":"lab","i":231,"p":2944.80,"t":"High shift m15 | 2943.153"},
{"k":"lab","i":231,"p":2963.39,"t":"Buy Hunt TP M15 | 2961.899"},
{"k":"lab","i":232,"p":2902.30,"t":"Sell Hunt TP M15 | 2900.770"},
{"k":"tgt","i":83,"p":2894.29,"t":"Sell Target1 | 2895.701"},
{"k":"bw","i":307.25,"p":2943.28,"t":"2943.153"},
{"k":"bp","i":307.25,"p":2895.75,"t":"2895.701"}
],
"boxes": [
{"k":"black","i":306.5,"i2":318.25,"p":2943.05,"p2":2941.53},
{"k":"blue","i":306.5,"i2":318.25,"p":2944.19,"p2":2942.36},
{"k":"brown","i":306.5,"i2":318.25,"p":2896.66,"p2":2894.83}
]
},
"encoding": {
"x": {"field":"i","type":"quantitative","title":null,
 "scale":{"domain":[-0.75,306.25],"nice":false,"zero":false},
 "axis":{"orient":"bottom","values":[0,16,32,48,64,80,96,112,128,144,160,176,192,208,224,240],
 "labelExpr":"['23 Jan 2026','23 Jan 05:15','23 Jan 09:15','23 Jan 13:15','23 Jan 17:15','23 Jan 21:15','24 Jan 01:15','24 Jan 05:15','24 Jan 09:15','24 Jan 13:15','24 Jan 17:15','24 Jan 21:15','25 Jan 01:15','25 Jan 05:15','25 Jan 09:15','25 Jan 13:15'][round(datum.value/16)]",
 "domainColor":"#000000","tickColor":"#000000","tickSize":4,"labelAlign":"left","labelBaseline":"top","labelPadding":2,"labelDx":-4,
 "labelFont":"Liberation Sans","labelFontSize":9,"labelColor":"#000000","labelOverlap":false,"labelFlush":false,"grid":false}},
"y": {"field":"p","type":"quantitative","title":null,
 "scale":{"domain":[2887.36,3024.48],"nice":false,"zero":false},
 "axis":{"orient":"right","values":[3023.72,3018.62,3013.67,3008.57,3003.62,2998.52,2993.42,2988.47,2983.37,2978.42,2973.32,2968.37,2963.27,2958.32,2953.22,2948.27,2938.22,2933.12,2928.17,2923.07,2918.12,2913.02,2908.07,2902.97,2898.02,2892.92,2887.97],
 "format":".3f","domainColor":"#000000","tickColor":"#000000","tickSize":4,"labelPadding":4,"labelBaseline":"middle",
 "labelFont":"Liberation Sans","labelFontSize":9,"labelColor":"#000000","labelOverlap":false,"labelFlush":false,"grid":false}}
},
"layer": [
{"data":{"name":"bands"},"mark":{"type":"rect"},
 "encoding":{"x2":{"field":"i2"},"y2":{"field":"p2"},
 "color":{"field":"k","type":"nominal","scale":{"domain":["r","g"],"range":["#fa8072","#7cfc00"]},"legend":null}}},
{"data":{"name":"candles"},"mark":{"type":"rule","color":"#000000","strokeWidth":1},
 "encoding":{"y":{"field":"l","type":"quantitative","title":null},"y2":{"field":"h"}}},
{"data":{"name":"candles"},"mark":{"type":"bar","size":3,"stroke":"#000000","strokeWidth":0.6},
 "encoding":{"y":{"field":"o","type":"quantitative","title":null},"y2":{"field":"c"},
 "color":{"condition":{"test":"datum.c >= datum.o","value":"#3cb878"},"value":"#b8283a"}}},
{"data":{"name":"env"},"mark":{"type":"line","strokeWidth":1},
 "encoding":{"detail":{"field":"s","type":"nominal"},
 "color":{"field":"k","type":"nominal","scale":{"domain":["o","b"],"range":["#ff4500","#5b8cff"]},"legend":null},
 "strokeDash":{"field":"k","type":"nominal","scale":{"domain":["o","b"],"range":[[3,2],[6,2,2,2]]},"legend":null}}},
{"data":{"name":"vl"},"mark":{"type":"rule","strokeWidth":1},
 "encoding":{"y2":{"field":"p2"},
 "color":{"field":"k","type":"nominal","scale":{"domain":["dot","pink","brown","bluev","solid"],"range":["#000000","#ff69b4","#8b3a3a","#2040ff","#000000"]},"legend":null},
 "strokeDash":{"field":"k","type":"nominal","scale":{"domain":["dot","pink","brown","bluev","solid"],"range":[[2,3],[4,3],[3,3],[3,3],[1,0]]},"legend":null}}},
{"data":{"name":"ma"},"transform":[{"filter":"datum.s == 'k'"}],"mark":{"type":"line","color":"#000000","strokeWidth":3.5,"interpolate":"monotone"},"encoding":{}},
{"data":{"name":"ma"},"transform":[{"filter":"datum.s == 'n'"}],"mark":{"type":"line","color":"#00008b","strokeWidth":2},"encoding":{}},
{"data":{"name":"ma"},"transform":[{"filter":"datum.s == 'r'"}],"mark":{"type":"line","color":"#ff0000","strokeWidth":3.5},"encoding":{}},
{"data":{"name":"hl"},"mark":{"type":"rule","strokeWidth":1},
 "encoding":{"x2":{"field":"i2"},
 "color":{"field":"k","type":"nominal","scale":{"domain":["blue","redd","gray","tgt","buyhunt","sellhunt","orange","hh","darkred","purple"],"range":["#0000ff","#ff0000","#8a8a8a","#a52a2a","#ff0000","#ff0000","#ff4500","#d2e27a","#cc0000","#9932cc"]},"legend":null},
 "strokeDash":{"field":"k","type":"nominal","scale":{"domain":["blue","redd","gray","tgt","buyhunt","sellhunt","orange","hh","darkred","purple"],"range":[[1,0],[5,11],[1,0],[3,3],[8,3,2,3],[4,3],[1,0],[1,0],[1,0],[1,0]]},"legend":null}}},
{"data":{"name":"mk"},"transform":[{"filter":"datum.k == 's'"}],
 "mark":{"type":"point","filled":true,"color":"#ffff00","opacity":1,"size":300,
 "shape":"M0,-1L0.2245,-0.309L0.951,-0.309L0.363,0.118L0.588,0.809L0,0.382L-0.588,0.809L-0.363,0.118L-0.951,-0.309L-0.2245,-0.309Z"},"encoding":{}},
{"data":{"name":"mk"},"transform":[{"filter":"datum.k == 'u'"}],
 "mark":{"type":"point","filled":true,"color":"#0000ff","opacity":1,"size":170,
 "shape":"M0,-1L0.85,-0.15L0.35,-0.15L0.35,1L-0.35,1L-0.35,-0.15L-0.85,-0.15Z"},"encoding":{}},
{"data":{"name":"mk"},"transform":[{"filter":"datum.k == 'd'"}],
 "mark":{"type":"point","filled":true,"color":"#ff1010","opacity":1,"size":170,
 "shape":"M0,1L0.85,0.15L0.35,0.15L0.35,-1L-0.35,-1L-0.35,0.15L-0.85,0.15Z"},"encoding":{}},
{"data":{"name":"mk"},"transform":[{"filter":"datum.k == 'x'"}],
 "mark":{"type":"point","filled":false,"color":"#ffa500","opacity":1,"size":90,"strokeWidth":3,
 "shape":"M-1,-1L1,1M-1,1L1,-1"},"encoding":{}},
{"data":{"name":"txt"},"transform":[{"filter":"datum.k == 'info'"}],
 "mark":{"type":"text","align":"left","baseline":"middle","font":"Liberation Sans","fontSize":9.5,"color":"#000000"},
 "encoding":{"text":{"field":"t"}}},
{"data":{"name":"txt"},"transform":[{"filter":"datum.k == 'lab'"}],
 "mark":{"type":"text","align":"left","baseline":"middle","font":"Liberation Sans","fontSize":12,"color":"#1a1a1a"},
 "encoding":{"text":{"field":"t"}}},
{"data":{"name":"txt"},"transform":[{"filter":"datum.k == 'sc'"}],
 "mark":{"type":"text","align":"left","baseline":"middle","font":"Liberation Sans","fontSize":10.5,"color":"#2f4f4f"},
 "encoding":{"text":{"field":"t"}}},
{"data":{"name":"txt"},"transform":[{"filter":"datum.k == 'fsb'"}],
 "mark":{"type":"text","align":"left","baseline":"middle","font":"Liberation Sans","fontSize":9.5,"color":"#2f4f4f"},
 "encoding":{"text":{"field":"t"}}},
{"data":{"name":"txt"},"transform":[{"filter":"datum.k == 'big'"}],
 "mark":{"type":"text","align":"left","baseline":"middle","font":"Liberation Sans","fontSize":14,"color":"#000000"},
 "encoding":{"text":{"field":"t"}}},
{"data":{"name":"txt"},"transform":[{"filter":"datum.k == 'tgt'"}],
 "mark":{"type":"text","align":"left","baseline":"middle","font":"Liberation Sans","fontSize":12,"color":"#b22222"},
 "encoding":{"text":{"field":"t"}}},
{"data":{"name":"boxes"},"mark":{"type":"rect"},
 "encoding":{"x2":{"field":"i2"},"y2":{"field":"p2"},
 "color":{"field":"k","type":"nominal","scale":{"domain":["black","blue","brown"],"range":["#000000","#0000ff","#a83232"]},"legend":null}}},
{"data":{"name":"txt"},"transform":[{"filter":"datum.k == 'bw'"}],
 "mark":{"type":"text","align":"left","baseline":"middle","font":"Liberation Sans","fontSize":9,"color":"#ffffff"},
 "encoding":{"text":{"field":"t"}}},
{"data":{"name":"txt"},"transform":[{"filter":"datum.k == 'bp'"}],
 "mark":{"type":"text","align":"left","baseline":"middle","font":"Liberation Sans","fontSize":9,"color":"#ffe0e0"},
 "encoding":{"text":{"field":"t"}}}
],
"resolve": {"scale": {"color": "independent", "strokeDash": "independent"}}
}
